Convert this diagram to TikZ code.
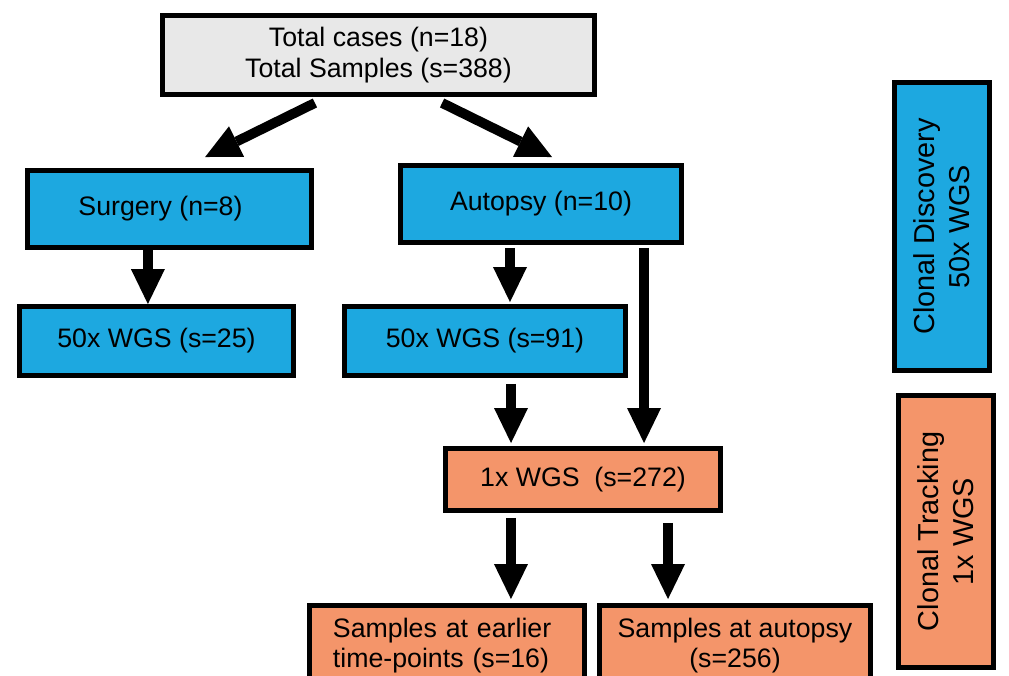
\documentclass[tikz,border=0pt]{standalone}
\usepackage{fontspec}
\setmainfont{Liberation Sans}
\usepackage{tikz}
\usetikzlibrary{positioning}
\usetikzlibrary{calc,arrows.meta}

\definecolor{wgsblue}{RGB}{29,168,224}
\definecolor{wgsorange}{RGB}{244,149,106}
\definecolor{topgray}{RGB}{232,232,232}

\begin{document}
\begin{tikzpicture}
	[   x=0.025cm, y=-0.025cm,
		box/.style={draw=black,line width=3.5pt,fill=#1,align=center,inner sep=0pt,
			font=\fontsize{19}{21.5}\selectfont},
	]
	\tikzset{thick arrow/.style={draw,line width=7pt,
			-{Triangle[width=0.85cm,length=0.875cm,line width=0pt]}}}
	\useasboundingbox (0,0) rectangle (1009,676);
	
	\node[box=topgray,minimum width=10.8cm,minimum height=1.975cm] (total) at (378.5,55) {Total cases (n=18)\\Total Samples (s=388)};
	
	\node[box=wgsblue,minimum width=7.1cm,minimum height=1.925cm] (surg) at (169.5,209) {Surgery (n=8)\hspace*{0.45cm}};
	\node[box=wgsblue,minimum width=7.025cm,minimum height=1.925cm] (aut) at (541,204) {Autopsy (n=10)};
	
	\node[box=wgsblue,minimum width=6.85cm,minimum height=1.725cm] (wgs-a) at (156.5,341) {50x WGS (s=25)};
	\node[box=wgsblue,minimum width=7.025cm,minimum height=1.725cm] (wgs-b) at (485,341) {50x WGS (s=91)};
	
	\node[box=wgsorange,minimum width=6.875cm,minimum height=1.55cm] (low) at (583,479.5) {1x WGS\ \ (s=272)};
	
	\node[box=wgsorange,minimum width=6.875cm,minimum height=2cm,align=left,text width=5.7cm] (early) at (447,645.5) {Samples at earlier\\time-points (s=16)};
	\node[box=wgsorange,minimum width=6.775cm,minimum height=2cm] (late) at (735,645.5) {Samples at autopsy\\(s=256)};
	
	% legend boxes on the right
	\node[box=wgsblue,rotate=90,minimum width=7.2cm,minimum height=2.375cm,
		font=\fontsize{20.5}{25}\selectfont] (disc) at (942,226.5) {Clonal Discovery\\50x WGS};
	\node[box=wgsorange,rotate=90,minimum width=6.8cm,minimum height=2.375cm,
		font=\fontsize{20.5}{25}\selectfont] (track) at (946,531.5) {Clonal Tracking\\1x WGS};
	
	% arrows
	\path[thick arrow] ([xshift=-1.59cm,yshift=-0.15cm]total.south) -- ([xshift=0.89cm,yshift=0.275cm]surg.north);
	\path[thick arrow] ([xshift=1.59cm,yshift=-0.15cm]total.south) -- ([xshift=0.275cm,yshift=0.15cm]aut.north);
	
	\path[thick arrow] ([xshift=-0.54cm]surg.south) -- ([xshift=-0.54cm]surg.south |- wgs-a.north);
	\path[thick arrow,shorten >=0.05cm] ([xshift=-0.775cm,yshift=-0.075cm]aut.south) -- ([xshift=-0.775cm]aut.south |- wgs-b.north);
	\path[thick arrow,shorten >=0.075cm] ([xshift=2.575cm,yshift=-0.075cm]aut.south) -- ([xshift=2.575cm]aut.south |- low.north);
	\path[thick arrow,shorten >=0.075cm] ([xshift=0.65cm,yshift=-0.15cm]wgs-b.south) -- ([xshift=0.65cm]wgs-b.south |- low.north);
	
	\path[thick arrow,shorten >=0.1cm] ([xshift=-1.8cm,yshift=-0.125cm]low.south) -- ([xshift=-1.8cm]low.south |- early.north);
	\path[thick arrow,shorten >=0.1cm] ([xshift=2.125cm,yshift=-0.25cm]low.south) -- ([xshift=2.125cm]low.south |- late.north);
\end{tikzpicture}
\end{document}
